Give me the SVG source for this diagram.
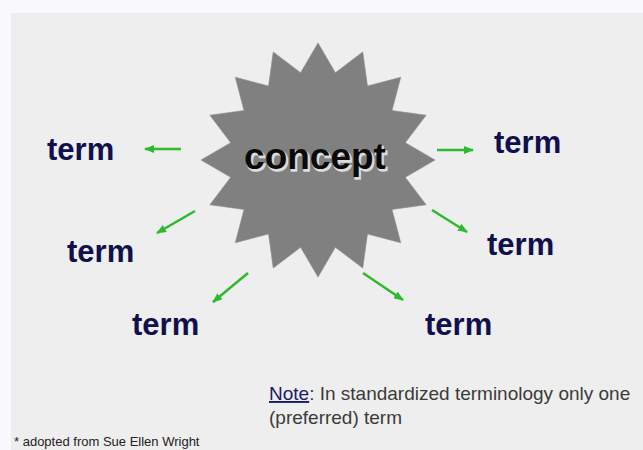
<svg xmlns="http://www.w3.org/2000/svg" width="643" height="450" viewBox="0 0 643 450">
<defs>
<style>
.term{font-family:"Liberation Sans",Arial,sans-serif;font-weight:bold;font-size:31px;fill:#10104e;}
.arr{stroke:#2dba2d;stroke-width:2.5;fill:none;marker-end:url(#ah);}
.note{font-family:"Liberation Sans",Arial,sans-serif;font-size:19px;fill:#3a3a3a;}
</style>
<marker id="ah" viewBox="0 0 10 8" refX="9" refY="4" markerWidth="10" markerHeight="8" markerUnits="userSpaceOnUse" orient="auto">
<path d="M0,0 L10,4 L0,8 Z" fill="#2dba2d"/>
</marker>
</defs>
<rect x="0" y="0" width="643" height="450" fill="#f8f8fd"/>
<rect x="11" y="13" width="632" height="437" fill="#eeeeee"/>
<g id="concept">
<polygon fill="#808080" stroke="#8c8c8c" stroke-width="0.6" points="318,43 335.36,72.71 362.77,51.91 367.45,86 400.73,77.27 392,110.55 426.09,115.23 405.29,142.64 435,160 405.29,177.36 426.09,204.77 392,209.45 400.73,242.73 367.45,234 362.77,268.09 335.36,247.29 318,277 300.64,247.29 273.23,268.09 268.55,234 235.27,242.73 244,209.45 209.91,204.77 230.71,177.36 201,160 230.71,142.64 209.91,115.23 244,110.55 235.27,77.27 268.55,86 273.23,51.91 300.64,72.71"/>
<text x="316.5" y="170.5" text-anchor="middle" font-family="Liberation Sans,Arial,sans-serif" font-weight="bold" font-size="37" fill="#dcdcdc" stroke="#dcdcdc" stroke-width="1.5">concept</text>
<text x="315" y="169" text-anchor="middle" font-family="Liberation Sans,Arial,sans-serif" font-weight="bold" font-size="37" fill="#0a0a0a">concept</text>
</g>
<g id="term1"><text class="term" x="47" y="160">term</text></g>
<g id="term2"><text class="term" x="494" y="153">term</text></g>
<g id="term3"><text class="term" x="487" y="255">term</text></g>
<g id="term4"><text class="term" x="67" y="262">term</text></g>
<g id="term5"><text class="term" x="132" y="335">term</text></g>
<g id="term6"><text class="term" x="425" y="335">term</text></g>
<g id="connectors">
<line class="arr" x1="181" y1="149" x2="145" y2="149"/>
<line class="arr" x1="437" y1="150" x2="473" y2="150"/>
<line class="arr" x1="432" y1="210" x2="467" y2="232"/>
<line class="arr" x1="195" y1="211" x2="157" y2="233"/>
<line class="arr" x1="248" y1="273" x2="213" y2="302"/>
<line class="arr" x1="363" y1="273" x2="403" y2="300"/>
</g>
<g id="note">
<text class="note" x="269" y="400"><tspan fill="#1a1a6a" text-decoration="underline">Note</tspan>: In standardized terminology only one</text>
<text class="note" x="269" y="424">(preferred) term</text>
</g>
<g id="footer">
<text x="14" y="446" font-family="Liberation Sans,Arial,sans-serif" font-size="13" fill="#222">* adopted from Sue Ellen Wright</text>
</g>
</svg>
